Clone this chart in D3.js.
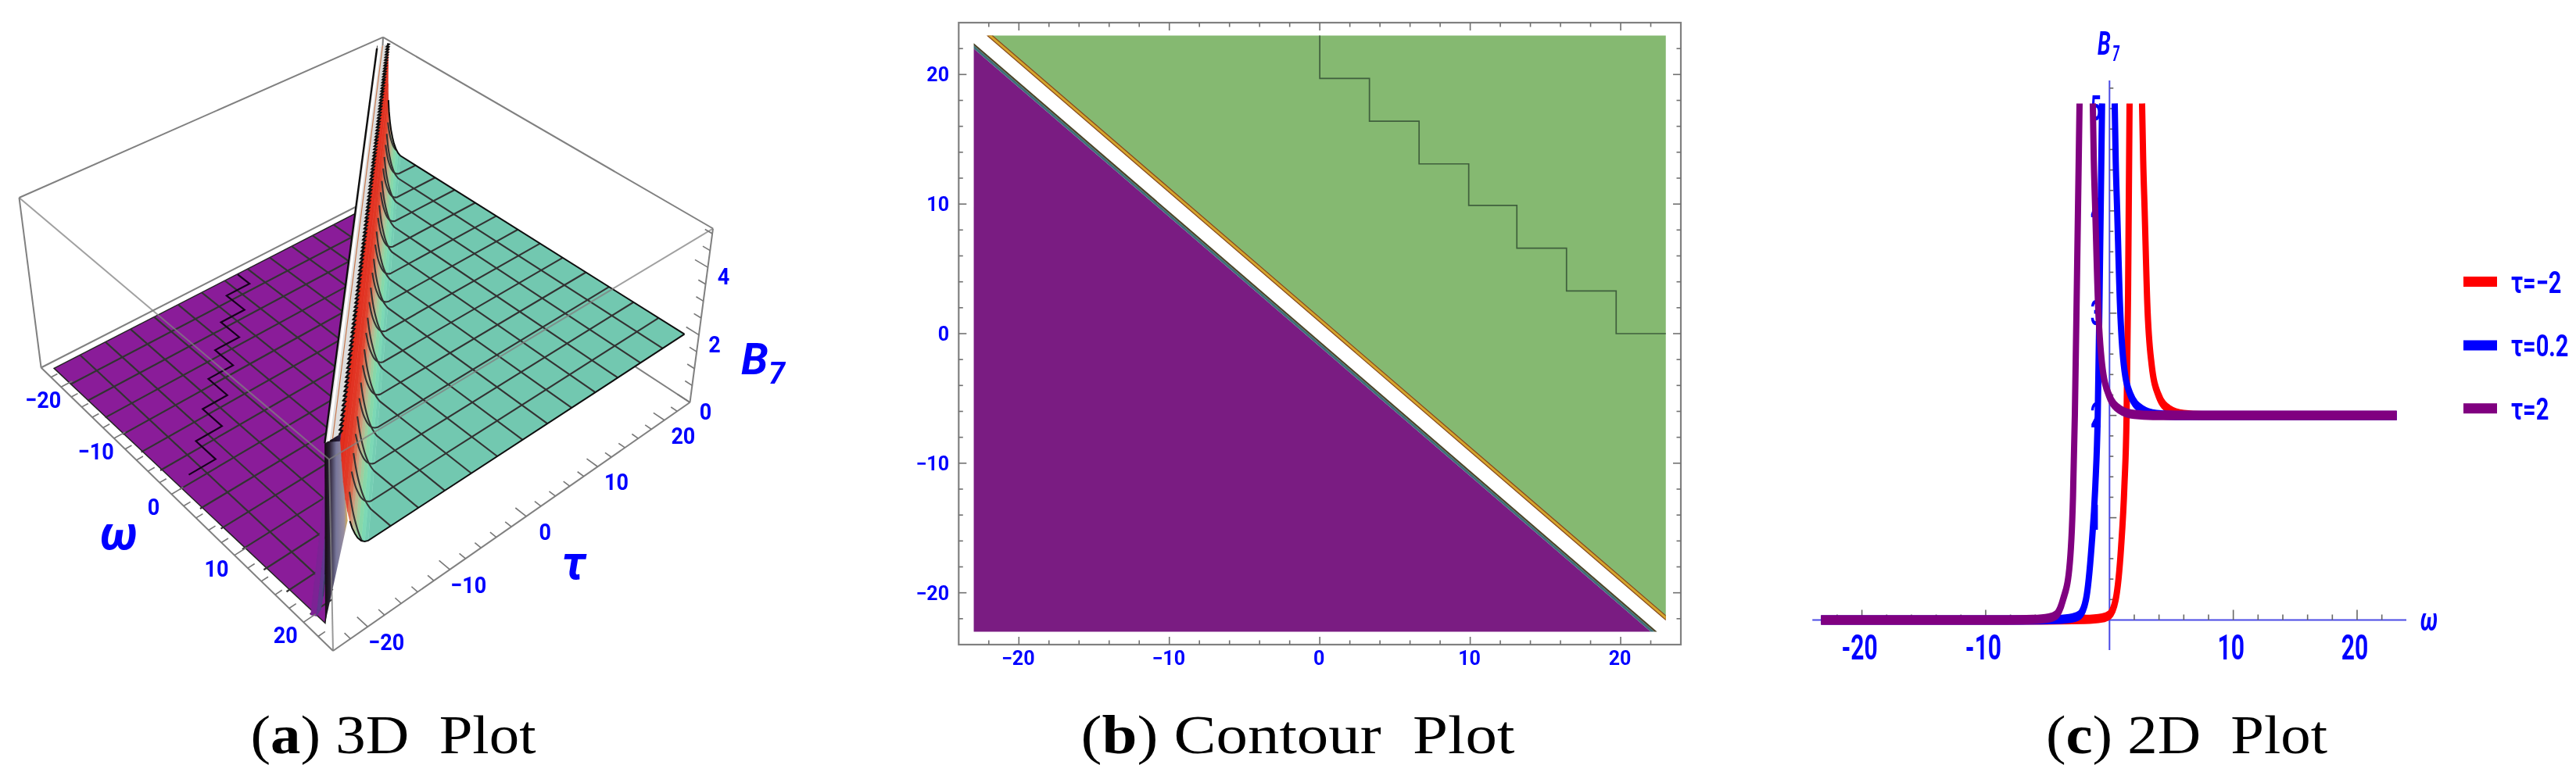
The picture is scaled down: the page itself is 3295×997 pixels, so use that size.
<!DOCTYPE html>
<html><head><meta charset="utf-8">
<script src="https://cdn.jsdelivr.net/npm/d3@7/dist/d3.min.js"></script>
<style>html,body{margin:0;background:#fff}svg{display:block}text{white-space:pre}</style>
</head><body><svg id="c" width="3295" height="997"></svg>
<script>
// ---------- data ----------
const axisTicksMajor = [-20,-10,0,10,20];
const axisTicksMinor = [-22,-18,-16,-14,-12,-8,-6,-4,-2,2,4,6,8,12,14,16,18,22];
const meshValues = [-19.7,-16.4,-13.1,-9.9,-6.6,-3.3,0,3.3,6.6,9.9,13.1,16.4,19.7];
const bTicksMajor = [0,2,4];
const bTicksMinor = [0.5,1,1.5,2.5,3,3.5,4.5,5];
// ridge profile, teal side: distance from ridge (omega+tau) and height
const tealD = [1.05,1.15,1.3,1.5,1.7,1.95,2.2,2.5,2.8,3.2,3.6,4.0];
const tealB = [5.15,4.6,4.0,3.5,3.15,2.85,2.62,2.42,2.26,2.12,2.04,2];
// ridge profile, purple side
const purpleD = [-3.2,-2.4,-1.8,-1.4,-1.1,-0.95,-0.85,-0.75];
const purpleB = [0,0.12,0.4,0.85,1.5,2.5,3.6,5.15];
// tip of the purple sheet (omega,tau)
const purpleTip = [21.3,-22.6];
// open front of the ridge, seen from below (omega,tau,height)
const capW = [22.25,23,23,21.3];
const capT = [-23,-21.95,-21.3,-22.6];
const capB = [5.15,5.15,2.9,0];
// staircase on the purple sheet (omega,tau)
const stair3dW = [-22.9,-20.7,-20.7,-17.4,-17.4,-14.1,-14.1,-10.9,-10.9,-7.6,-7.6,-4.3,-4.3,-1,-1];
const stair3dT = [1.8,1.8,-1.5,-1.5,-4.8,-4.8,-8.1,-8.1,-11.4,-11.4,-14.6,-14.6,-17.9,-17.9,-21.2];
// contour panel
const stairX = [0,0,3.3,3.3,6.6,6.6,9.9,9.9,13.1,13.1,16.4,16.4,19.7,19.7,23];
const stairY = [23,19.7,19.7,16.4,16.4,13.1,13.1,9.9,9.9,6.6,6.6,3.3,3.3,0,0];
// 2D panel curves: rising branch and falling branch (omega, B)
const redRiseW = [-23.3,-5,-2,-0.6,0,0.5,0.94,1.2,1.38,1.5,1.62];
const redRiseB = [0,0,0.005,0.02,0.05,0.2,0.72,1.3,2,3.2,5.05];
const redFallW = [2.63,2.72,2.84,3.05,3.4,3.95,4.8,6,7.5,23.2];
const redFallB = [5.05,4.5,4,3.1,2.5,2.2,2.06,2.01,2,2];
const blueRiseW = [-23.3,-7,-4.2,-3,-2.4,-1.9,-1.45,-1.15,-0.95,-0.8,-0.6];
const blueRiseB = [0,0,0.005,0.02,0.05,0.2,0.72,1.3,2,3.2,5.05];
const blueFallW = [0.42,0.5,0.62,0.84,1.15,1.7,2.6,3.8,5.3,23.2];
const blueFallB = [5.05,4.5,4,3.1,2.5,2.2,2.06,2.01,2,2];
const purpRiseW = [-23.3,-9,-6.2,-4.9,-4.3,-3.75,-3.25,-2.95,-2.8,-2.62,-2.42];
const purpRiseB = [0,0,0.005,0.02,0.05,0.2,0.5,1.2,2,3.4,5.05];
const purpFallW = [-1.35,-1.27,-1.15,-0.93,-0.6,-0.05,0.8,2,3.5,23.2];
const purpFallB = [5.05,4.5,4,3.1,2.5,2.2,2.06,2.01,2,2];
const legendLabels = ["τ=−2","τ=0.2","τ=2"];
const legendColors = ["#ff0000","#0000ff","#800080"];
const cXTicksMajor = [-20,-10,10,20];
const cXTicksMinor = [-22,-18,-16,-14,-12,-8,-6,-4,-2,2,4,6,8,12,14,16,18,22];
const cYLabels = [1,2,3,4,5];
const cYMinor = d3.range(1,27).map(d=>d/5);

const BLUE="#0000ff", FONT="Roboto, sans-serif";
const svg=d3.select("#c");
const defs=svg.append("defs");
defs.append("filter").attr("id","soft").attr("x","-2%").attr("y","-2%").attr("width","104%").attr("height","104%")
  .append("feGaussianBlur").attr("stdDeviation",0.6);
const capGrad=defs.append("linearGradient").attr("id","capG").attr("x1",0).attr("x2",1).attr("y1",0).attr("y2",0);
[[0,"#120a10"],[0.2,"#2a2034"],[0.5,"#77769a"],[0.85,"#9a90a0"],[1,"#d8b050"]].forEach(([o,c])=>capGrad.append("stop").attr("offset",o).attr("stop-color",c));
const line=d3.line();

// ============ panel (a) ============
const A=svg.append("g").attr("filter","url(#soft)");
const floorQ=[[52.6,470.5],[426,833],[882.5,515],[480,252]];   // L,F,R,B
const topQ=[[24.5,253],[421,588],[912,292.5],[490,47.7]];
function homog(q){
  const [[x0,y0],[x1,y1],[x2,y2],[x3,y3]]=q;
  const dx1=x1-x2,dx2=x3-x2,sx=x0-x1+x2-x3,dy1=y1-y2,dy2=y3-y2,sy=y0-y1+y2-y3;
  const det=dx1*dy2-dx2*dy1;
  const g=(sx*dy2-dx2*sy)/det,h=(dx1*sy-sx*dy1)/det;
  const a=x1-x0+g*x1,b=x3-x0+h*x3,d=y1-y0+g*y1,e=y3-y0+h*y3;
  return (u,v)=>{const w=g*u+h*v+1;return [(a*u+b*v+x0)/w,(d*u+e*v+y0)/w];};
}
const hF=homog(floorQ),hT=homog(topQ);
const uS=d3.scaleLinear().domain([-24,24]).range([0,1]);
const vS=d3.scaleLinear().domain([-24,24]).range([0,1]);
const zS=d3.scaleLinear().domain([0,5.15]).range([0,1]);
function P(w,t,z){const a=hF(uS(w),vS(t)),b=hT(uS(w),vS(t)),k=zS(z);
  return [a[0]+(b[0]-a[0])*k,a[1]+(b[1]-a[1])*k];}
const boxStroke="#808080";
function seg(g,a,b,sw=2,op=1){g.append("path").attr("d",line([a,b])).attr("fill","none").attr("stroke",boxStroke).attr("stroke-width",sw).attr("opacity",op);}
// back box edges
seg(A,floorQ[0],floorQ[3]);seg(A,floorQ[2],floorQ[3]);seg(A,floorQ[3],topQ[3]);
seg(A,topQ[0],topQ[3]);seg(A,topQ[2],topQ[3]);seg(A,floorQ[0],topQ[0]);seg(A,floorQ[2],topQ[2]);

// purple sheet
const dEnds=d=>d>=0?[[23,d-23],[d-23,23]]:[[23+d,-23],[-23,23+d]];
const purpleEdge=-0.75;
const pe=dEnds(purpleEdge);
A.append("path").attr("d",line([P(-23,-23,0),P(pe[1][0],pe[1][1],0),P(purpleTip[0],purpleTip[1],0)])+"Z")
 .attr("fill","#8a1f99").attr("stroke","#222").attr("stroke-width",1.5);
const meshC="#333333";
meshValues.forEach(m=>{
  const e=purpleEdge-m;
  if(e>-23) A.append("path").attr("d",line([P(-23,m,0),P(Math.min(e,23),m,0)])).attr("stroke",meshC).attr("stroke-width",2.2).attr("fill","none");
  if(e>-23) A.append("path").attr("d",line([P(m,-23,0),P(m,Math.min(e,23),0)])).attr("stroke",meshC).attr("stroke-width",2.2).attr("fill","none");
});
A.append("path").attr("d",line(stair3dW.map((w,i)=>P(w,stair3dT[i],0)))).attr("fill","none").attr("stroke","#14041a").attr("stroke-width",2.2);

// underside wall of the ridge
const wallC=d3.scaleLinear().domain([0,0.15,0.5,1.5,5.15]).range(["#8a1f99","#6a2a90","#50508a","#2a2040","#0c0608"]);
d3.pairs(d3.range(purpleD.length)).forEach(([i,j])=>{
  const a=dEnds(purpleD[i]),b=dEnds(purpleD[j]);
  const c=wallC((purpleB[i]+purpleB[j])/2);
  A.append("path").attr("d",line([P(a[0][0],a[0][1],purpleB[i]),P(a[1][0],a[1][1],purpleB[i]),P(b[1][0],b[1][1],purpleB[j]),P(b[0][0],b[0][1],purpleB[j])])+"Z")
   .attr("fill",c).attr("stroke",c).attr("stroke-width",0.5);
});
A.append("path").attr("d",line(capW.map((w,i)=>P(w,capT[i],capB[i])))+"Z").attr("fill","url(#capG)");

// teal sheet
const dToB=d3.scaleLinear().domain(tealD).range(tealB).clamp(true);
const tealC=d3.scaleLinear().domain([2,2.05,2.2,2.4,2.65,2.95,3.4,5.15])
  .range(["#72c8b0","#78d8b8","#88d8a8","#a8c898","#c8a888","#d87858","#e03c28","#e32a1a"]);
const lastD=tealD[tealD.length-1];
const le=dEnds(lastD);
A.append("path").attr("d",line([P(le[0][0],le[0][1],2),P(23,23,2),P(le[1][0],le[1][1],2)])+"Z").attr("fill","#72c8b0");
for(let i=tealD.length-2;i>=0;i--){
  const a=dEnds(tealD[i]),b=dEnds(tealD[i+1]);
  const c=tealC((tealB[i]+tealB[i+1])/2);
  A.append("path").attr("d",line([P(a[0][0],a[0][1],tealB[i]),P(a[1][0],a[1][1],tealB[i]),P(b[1][0],b[1][1],tealB[i+1]),P(b[0][0],b[0][1],tealB[i+1])])+"Z")
   .attr("fill",c).attr("stroke",c).attr("stroke-width",0.6);
}
// teal mesh, rising into the ridge and fading out in the red part
const meshD=tealD.filter((d,i)=>tealB[i]<=3.2);
meshValues.forEach(m=>{
  const end=23+m;
  const ds=meshD.filter(d=>d<end).concat(end>lastD?[lastD]:[end]);
  const ptsA=ds.map(d=>P(d-m,m,dToB(d)));
  if(end>lastD) ptsA.push(P(23,m,2));
  const ptsB=ds.map(d=>P(m,d-m,dToB(d)));
  if(end>lastD) ptsB.push(P(m,23,2));
  [ptsA,ptsB].forEach(p=>A.append("path").attr("d",d3.line().curve(d3.curveCatmullRom)(p)).attr("fill","none").attr("stroke",meshC).attr("stroke-width",2.1));
});
// outer edges of the teal sheet
const edgeA=tealD.map(d=>P(23,d-23,dToB(d))).concat([P(23,23,2)]);
const edgeB=tealD.map(d=>P(d-23,23,dToB(d))).concat([P(23,23,2)]);
A.append("path").attr("d",line(edgeA.slice(5))).attr("fill","none").attr("stroke","#111").attr("stroke-width",2);
A.append("path").attr("d",line(edgeB.slice(3))).attr("fill","none").attr("stroke","#111").attr("stroke-width",2);

// flat clipped top of the ridge (white / grey band with jagged black edge)
const jagW=d3.range(-22.6,22.4,0.21);
const jagHi=jagW.map((w,i)=>{const d=0.78+(i%2?0.3:0);return P(w,d-w,5.15);});
const jagLo=jagW.map(w=>P(w,purpleEdge-w,5.15));
A.append("path").attr("d",line(jagHi.concat(jagLo.slice().reverse()))+"Z").attr("fill","#dedede");
A.append("path").attr("d",line(jagW.map(w=>P(w,-0.35-w,5.15)))).attr("stroke","#fff").attr("stroke-width",3).attr("fill","none");
A.append("path").attr("d",line(jagW.map(w=>P(w,0.1-w,5.15)))).attr("stroke","#c87a50").attr("stroke-width",1.2).attr("fill","none");
A.append("path").attr("d",line(jagHi)).attr("fill","none").attr("stroke","#111").attr("stroke-width",2.4);
A.append("path").attr("d",line(jagLo)).attr("fill","none").attr("stroke","#111").attr("stroke-width",2.4);

// front box edges
seg(A,topQ[0],topQ[1],2,0.75);seg(A,topQ[1],topQ[2],2,0.75);seg(A,topQ[1],floorQ[1],2,0.8);
seg(A,floorQ[0],floorQ[1]);seg(A,floorQ[1],floorQ[2]);
// ticks
function tick(g,a,b,sw=1.6){g.append("path").attr("d",line([a,b])).attr("stroke","#777").attr("stroke-width",sw).attr("fill","none");}
axisTicksMajor.forEach(v=>{tick(A,P(v,-24,0),P(v,-22.6,0));tick(A,P(24,v,0),P(22.6,v,0));});
axisTicksMinor.forEach(v=>{tick(A,P(v,-24,0),P(v,-23.2,0));tick(A,P(24,v,0),P(23.2,v,0));});
bTicksMajor.forEach(v=>tick(A,P(24,24,v),P(22.4,24,v)));
bTicksMinor.forEach(v=>tick(A,P(24,24,v),P(23.1,24,v)));
// labels
function lab(g,txt,x,y,size,opt={}){
  const t=g.append("text").attr("transform",`translate(${x},${y}) scale(1,${opt.sy||1})`)
   .attr("font-family",FONT).attr("font-size",size).attr("font-weight",opt.w||700).attr("font-style",opt.st||"normal")
   .attr("fill",BLUE).attr("text-anchor",opt.a||"middle").text(txt);
  return t;
}
const fmt=v=>v<0?"−"+(-v):""+v;
axisTicksMajor.forEach(v=>{const p=P(v,-24,0);lab(A,fmt(v),p[0]-23,p[1]+27,27,{sy:1.12});});
axisTicksMajor.forEach(v=>{const p=P(24,v,0);lab(A,fmt(v),p[0]+24,p[1]+30,27,{sy:1.12});});
bTicksMajor.forEach(v=>{const p=P(24,24,v);lab(A,fmt(v),p[0]+20,p[1]+22,27,{sy:1.12});});
lab(A,"ω",152,703,60,{st:"italic"});
lab(A,"τ",734,741,60,{st:"italic"});
lab(A,"B",948,479,56,{st:"italic",a:"start"});
lab(A,"7",983,491,38,{st:"italic",a:"start"});

// ============ panel (b) ============
const B=svg.append("g").attr("filter","url(#soft)");
const bx=d3.scaleLinear().domain([-24,24]).range([1226.3,2150]);
const by=d3.scaleLinear().domain([-24,24]).range([825,29]);
const L2=d3.line().x(d=>bx(d[0])).y(d=>by(d[1]));
const band=(d0,d1)=>{
  const a=dEnds(d0),b=dEnds(d1);
  return L2([a[0],a[1],b[1],b[0]])+"Z";
};
B.append("path").attr("d",L2([[-23,-23],[-23,22.0],[22.0,-23]])+"Z").attr("fill","#7a1b82");
B.append("path").attr("d",band(-1.0,-0.75)).attr("fill","#3d7078");
B.append("path").attr("d",band(-0.75,-0.58)).attr("fill","#4a4326");
B.append("path").attr("d",L2([[-21.8,23],[23,23],[23,-21.8]])+"Z").attr("fill","#85b971");
B.append("path").attr("d",band(0.85,1.28)).attr("fill","#8a4a1c");
B.append("path").attr("d",band(0.95,1.18)).attr("fill","#d6a62e");
B.append("path").attr("d",L2(stairX.map((x,i)=>[x,stairY[i]]))).attr("fill","none").attr("stroke","#3f5f3c").attr("stroke-width",1.7);
B.append("rect").attr("x",bx(-24)).attr("y",by(24)).attr("width",bx(24)-bx(-24)).attr("height",by(-24)-by(24)).attr("fill","none").attr("stroke","#808080").attr("stroke-width",2.2);
const bt=(a,b)=>B.append("path").attr("d",line([a,b])).attr("stroke","#707070").attr("stroke-width",1.6);
[[axisTicksMajor,10],[axisTicksMinor,5.5]].forEach(([arr,len])=>arr.forEach(v=>{
  bt([bx(v),by(-24)],[bx(v),by(-24)-len]);bt([bx(v),by(24)],[bx(v),by(24)+len]);
  bt([bx(-24),by(v)],[bx(-24)+len,by(v)]);bt([bx(24),by(v)],[bx(24)-len,by(v)]);
}));
axisTicksMajor.forEach(v=>{
  lab(B,fmt(v),bx(v)-1,851,25,{sy:1});
  lab(B,fmt(v),1214,by(v)+9,25,{a:"end",sy:1});
});

// ============ panel (c) ============
const C=svg.append("g").attr("filter","url(#soft)");
const cx=d3.scaleLinear().domain([-20,20]).range([2381.6,3015]);
const cy=d3.scaleLinear().domain([0,5]).range([793.5,139]);
cYLabels.forEach(v=>lab(C,""+v,2681,cy(v)+15,24,{sy:1.85}));
C.append("path").attr("d",line([[cx(-24),cy(0)],[3078,cy(0)]])).attr("stroke","#4a4ae6").attr("stroke-width",2);
C.append("path").attr("d",line([[cx(0),103],[cx(0),832]])).attr("stroke","#4a4ae6").attr("stroke-width",2);
const ct=(a,b)=>C.append("path").attr("d",line([a,b])).attr("stroke","#666").attr("stroke-width",1.6);
cXTicksMajor.forEach(v=>ct([cx(v),cy(0)],[cx(v),cy(0)-13]));
cXTicksMinor.forEach(v=>ct([cx(v),cy(0)],[cx(v),cy(0)-7]));
cYMinor.forEach(v=>ct([cx(0),cy(v)],[cx(0)+(Number.isInteger(v)?9:5),cy(v)]));
cXTicksMajor.forEach(v=>lab(C,fmt(v).replace("−","-"),cx(v)-3,844,30,{sy:1.45}));
const SY=1.5;
const stretched=C.append("g").attr("transform",`scale(1,${SY})`);
const cl=d3.line().x(d=>cx(d[0])).y(d=>cy(d[1])/SY).curve(d3.curveMonotoneX);
[[redRiseW,redRiseB,redFallW,redFallB,"#ff0000"],[blueRiseW,blueRiseB,blueFallW,blueFallB,"#0000ff"],[purpRiseW,purpRiseB,purpFallW,purpFallB,"#800080"]]
.forEach(([rw,rb,fw,fb,col])=>{
  stretched.append("path").attr("d",cl(rw.map((w,i)=>[w,rb[i]]))).attr("fill","none").attr("stroke",col).attr("stroke-width",8);
  stretched.append("path").attr("d",cl(fw.map((w,i)=>[w,fb[i]]))).attr("fill","none").attr("stroke",col).attr("stroke-width",8);
});
lab(C,"ω",3107,807,28,{st:"italic",sy:1.45});
lab(C,"B",2683,70,27,{st:"italic",a:"start",sy:1.56});
lab(C,"7",2702,78,16,{st:"italic",a:"start",sy:1.76});
legendLabels.forEach((t,i)=>{
  const y=[360.5,442,522.7][i];
  C.append("rect").attr("x",3151).attr("y",y-6.5).attr("width",43).attr("height",13).attr("fill",legendColors[i]);
  lab(C,t,3212,y+14,29,{a:"start",sy:1.36});
});

// ============ captions ============
const serif="'Liberation Serif', serif";
[["a","3D  Plot",503,365],["b","Contour  Plot",1660,555],["c","2D  Plot",2797,360]].forEach(([k,txt,x,len])=>{
  const t=svg.append("text").attr("x",x).attr("y",964).attr("text-anchor","middle").attr("font-family",serif).attr("font-size",70).attr("fill","#000")
    .attr("textLength",len).attr("lengthAdjust","spacingAndGlyphs");
  t.append("tspan").text("(");
  t.append("tspan").attr("font-weight",700).text(k);
  t.append("tspan").text(") "+txt);
});
</script></body></html>
